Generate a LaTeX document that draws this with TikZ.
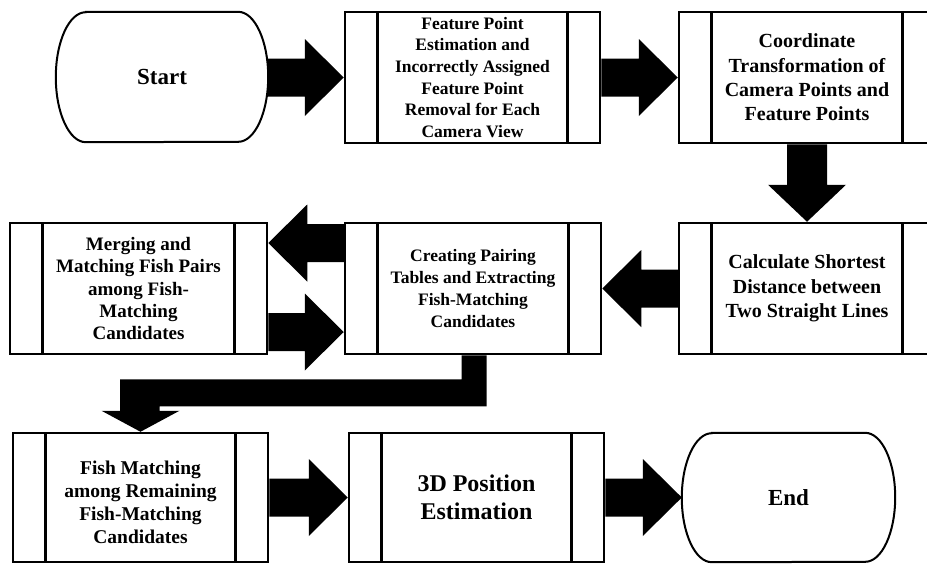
\documentclass[tikz,border=0pt]{standalone}
\usepackage{fontspec}
\setmainfont{Liberation Serif}
\usetikzlibrary{calc}
\tikzset{
  proc/.style={draw, line width=2.5pt, minimum width=255pt, minimum height=131pt,
    inner sep=0pt, align=center,
    path picture={\draw[line width=2.5pt]
      ([xshift=32.5pt]path picture bounding box.north west) -- ([xshift=32.5pt]path picture bounding box.south west)
      ([xshift=-32.5pt]path picture bounding box.north east) -- ([xshift=-32.5pt]path picture bounding box.south east);}},
  term/.style={minimum width=212pt, minimum height=130pt, inner sep=0pt,
    font=\bfseries\fontsize{23}{28}\selectfont},
  fsA/.style={font=\bfseries\fontsize{17.5}{21.7}\selectfont},
  fsB/.style={font=\bfseries\fontsize{20}{24.3}\selectfont},
  fsC/.style={font=\bfseries\fontsize{19}{22.2}\selectfont},
  fsE/.style={font=\bfseries\fontsize{19.5}{23}\selectfont},
  fsD/.style={font=\bfseries\fontsize{24}{28.5}\selectfont},
}
\newcommand\fatright[2]{\fill let \p1=(#1), \p2=(#2) in
  (\x1,\y2+19pt) -- (\x2-39pt,\y2+19pt) -- (\x2-39pt,\y2+38.5pt) -- (\x2,\y2)
  -- (\x2-39pt,\y2-38.5pt) -- (\x2-39pt,\y2-19pt) -- (\x1,\y2-19pt) -- cycle;}
\newcommand\fatleft[2]{\fill let \p1=(#1), \p2=(#2) in
  (\x1,\y2+19pt) -- (\x2+39pt,\y2+19pt) -- (\x2+39pt,\y2+38.5pt) -- (\x2,\y2)
  -- (\x2+39pt,\y2-38.5pt) -- (\x2+39pt,\y2-19pt) -- (\x1,\y2-19pt) -- cycle;}
\newcommand\fatdown[2]{\fill let \p1=(#1), \p2=(#2) in
  (\x1-20pt,\y1) -- (\x1-20pt,\y2+37pt) -- (\x1-39pt,\y2+37pt) -- (\x1,\y2)
  -- (\x1+39pt,\y2+37pt) -- (\x1+20pt,\y2+37pt) -- (\x1+20pt,\y1) -- cycle;}
\newcommand\termline[2]{\draw[line width=2pt]
  ([xshift=30pt]#1.north west) -- ([xshift=-30pt]#1.north east)
  arc[start angle=90,end angle=-90,x radius=30pt,y radius=#2]
  -- ([xshift=30pt]#1.south west)
  arc[start angle=270,end angle=90,x radius=30pt,y radius=#2] -- cycle;}
\begin{document}
\begin{tikzpicture}[x=1pt,y=-1pt]
\useasboundingbox (0,0) rectangle (927,563);
\clip (0,0) rectangle (927,563);
\fill[white] (0,0) rectangle (927,563);

% nodes
\node[term] (st) at (162,77) {Start};
\node[proc,fsA] (b1) at (472.5,77.5) {Feature Point\\Estimation and\\Incorrectly Assigned\\Feature Point\\Removal for Each\\Camera View};
\node[proc,fsB,minimum width=256pt] (b2) at (807,77.5) {Coordinate\\Transformation of\\Camera Points and\\Feature Points};
\node[proc,fsB,minimum width=256pt] (b3) at (807,288.5) {Calculate Shortest\\Distance between\\Two Straight Lines};
\node[proc,fsA,minimum width=256pt] (b4) at (473,288.5) {Creating Pairing\\Tables and Extracting\\Fish-Matching\\Candidates};
\node[proc,fsC,minimum width=257pt] (b5) at (138.5,288.5) {Merging and\\Matching Fish Pairs\\among Fish-\\Matching\\Candidates};
\node[proc,minimum height=129pt] (b6) at (140.5,497.5) {};
\node[fsE,align=center] (t6) at (140.5,502) {Fish Matching\\among Remaining\\Fish-Matching\\Candidates};
\node[proc,fsD,minimum height=129pt] (b7) at (476.5,497.5) {3D Position\\Estimation};
\node[term,minimum width=213pt,minimum height=129pt] (en) at (788.5,497.5) {End};

\termline{st}{65pt}
\termline{en}{64.5pt}

% connectors
\fatright{st.east}{b1.west}
\fatright{b1.east}{b2.west}
\fatdown{b2.south}{b3.north}
\fatleft{b3.west}{b4.east}
\fatleft{[yshift=45.5pt]b4.west}{[yshift=45.5pt]b5.east}
\fatright{[yshift=-43.5pt]b5.east}{[yshift=-43.5pt]b4.west}
\fill let \p1=(b4.south), \p2=(b6.north) in
  (\x1-11.5pt,\y1) -- (\x1-11.5pt,\y1-24pt) -- (\x2-20.5pt,\y1-24pt) -- (\x2-20.5pt,\y2+21pt)
  -- (\x2-39pt,\y2+21pt) -- (\x2,\y2) -- (\x2+39pt,\y2+21pt) -- (\x2+19pt,\y2+21pt)
  -- (\x2+19pt,\y1-51pt) -- (\x1+13.5pt,\y1-51pt) -- (\x1+13.5pt,\y1) -- cycle;
\fatright{b6.east}{b7.west}
\fatright{b7.east}{en.west}
\end{tikzpicture}
\end{document}
